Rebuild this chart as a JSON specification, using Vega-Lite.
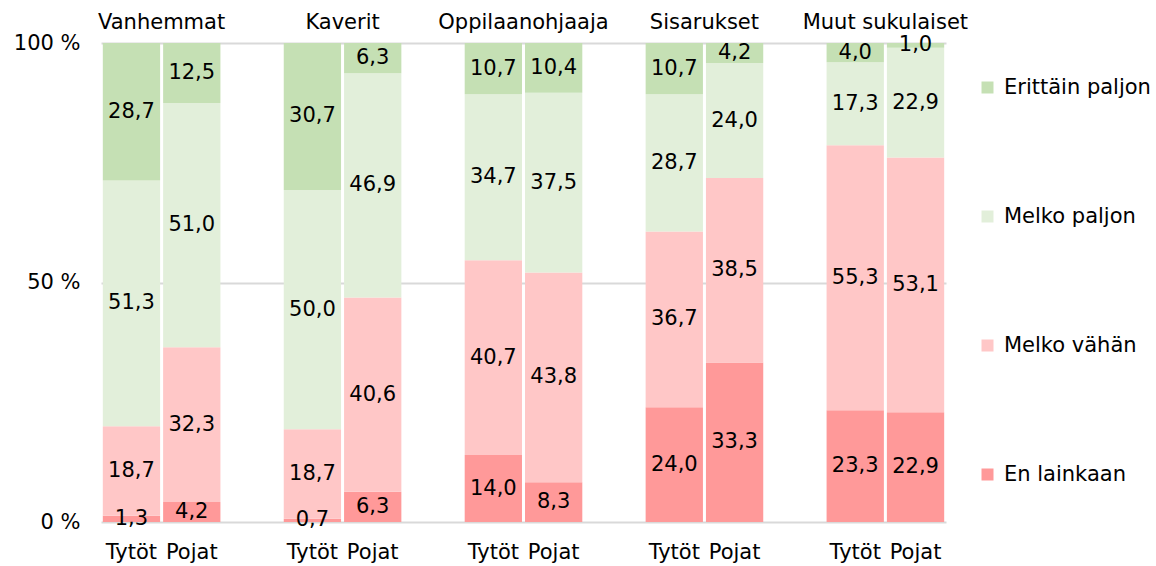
{
  "$schema": "https://vega.github.io/schema/vega-lite/v6.json",
  "width": 845,
  "height": 479,
  "autosize": {"type": "none"},
  "padding": {"left": 101, "top": 43, "right": 210, "bottom": 44},
  "background": "#ffffff",
  "config": {
    "font": "DejaVu Sans",
    "view": {"stroke": null},
    "locale": {"number": {"decimal": ",", "thousands": " ", "grouping": [3], "currency": ["", " €"]}}
  },
  "datasets": {
    "bars": [
      {"group": "Vanhemmat", "bar": "Vanhemmat|Tytöt", "answer": "En lainkaan", "level": 1, "value": 1.3},
      {"group": "Vanhemmat", "bar": "Vanhemmat|Tytöt", "answer": "Melko vähän", "level": 2, "value": 18.7},
      {"group": "Vanhemmat", "bar": "Vanhemmat|Tytöt", "answer": "Melko paljon", "level": 3, "value": 51.3},
      {"group": "Vanhemmat", "bar": "Vanhemmat|Tytöt", "answer": "Erittäin paljon", "level": 4, "value": 28.7},
      {"group": "Vanhemmat", "bar": "Vanhemmat|Pojat", "answer": "En lainkaan", "level": 1, "value": 4.2},
      {"group": "Vanhemmat", "bar": "Vanhemmat|Pojat", "answer": "Melko vähän", "level": 2, "value": 32.3},
      {"group": "Vanhemmat", "bar": "Vanhemmat|Pojat", "answer": "Melko paljon", "level": 3, "value": 51.0},
      {"group": "Vanhemmat", "bar": "Vanhemmat|Pojat", "answer": "Erittäin paljon", "level": 4, "value": 12.5},
      {"group": "Kaverit", "bar": "Kaverit|Tytöt", "answer": "En lainkaan", "level": 1, "value": 0.7},
      {"group": "Kaverit", "bar": "Kaverit|Tytöt", "answer": "Melko vähän", "level": 2, "value": 18.7},
      {"group": "Kaverit", "bar": "Kaverit|Tytöt", "answer": "Melko paljon", "level": 3, "value": 50.0},
      {"group": "Kaverit", "bar": "Kaverit|Tytöt", "answer": "Erittäin paljon", "level": 4, "value": 30.7},
      {"group": "Kaverit", "bar": "Kaverit|Pojat", "answer": "En lainkaan", "level": 1, "value": 6.3},
      {"group": "Kaverit", "bar": "Kaverit|Pojat", "answer": "Melko vähän", "level": 2, "value": 40.6},
      {"group": "Kaverit", "bar": "Kaverit|Pojat", "answer": "Melko paljon", "level": 3, "value": 46.9},
      {"group": "Kaverit", "bar": "Kaverit|Pojat", "answer": "Erittäin paljon", "level": 4, "value": 6.3},
      {"group": "Oppilaanohjaaja", "bar": "Oppilaanohjaaja|Tytöt", "answer": "En lainkaan", "level": 1, "value": 14.0},
      {"group": "Oppilaanohjaaja", "bar": "Oppilaanohjaaja|Tytöt", "answer": "Melko vähän", "level": 2, "value": 40.7},
      {"group": "Oppilaanohjaaja", "bar": "Oppilaanohjaaja|Tytöt", "answer": "Melko paljon", "level": 3, "value": 34.7},
      {"group": "Oppilaanohjaaja", "bar": "Oppilaanohjaaja|Tytöt", "answer": "Erittäin paljon", "level": 4, "value": 10.7},
      {"group": "Oppilaanohjaaja", "bar": "Oppilaanohjaaja|Pojat", "answer": "En lainkaan", "level": 1, "value": 8.3},
      {"group": "Oppilaanohjaaja", "bar": "Oppilaanohjaaja|Pojat", "answer": "Melko vähän", "level": 2, "value": 43.8},
      {"group": "Oppilaanohjaaja", "bar": "Oppilaanohjaaja|Pojat", "answer": "Melko paljon", "level": 3, "value": 37.5},
      {"group": "Oppilaanohjaaja", "bar": "Oppilaanohjaaja|Pojat", "answer": "Erittäin paljon", "level": 4, "value": 10.4},
      {"group": "Sisarukset", "bar": "Sisarukset|Tytöt", "answer": "En lainkaan", "level": 1, "value": 24.0},
      {"group": "Sisarukset", "bar": "Sisarukset|Tytöt", "answer": "Melko vähän", "level": 2, "value": 36.7},
      {"group": "Sisarukset", "bar": "Sisarukset|Tytöt", "answer": "Melko paljon", "level": 3, "value": 28.7},
      {"group": "Sisarukset", "bar": "Sisarukset|Tytöt", "answer": "Erittäin paljon", "level": 4, "value": 10.7},
      {"group": "Sisarukset", "bar": "Sisarukset|Pojat", "answer": "En lainkaan", "level": 1, "value": 33.3},
      {"group": "Sisarukset", "bar": "Sisarukset|Pojat", "answer": "Melko vähän", "level": 2, "value": 38.5},
      {"group": "Sisarukset", "bar": "Sisarukset|Pojat", "answer": "Melko paljon", "level": 3, "value": 24.0},
      {"group": "Sisarukset", "bar": "Sisarukset|Pojat", "answer": "Erittäin paljon", "level": 4, "value": 4.2},
      {"group": "Muut sukulaiset", "bar": "Muut sukulaiset|Tytöt", "answer": "En lainkaan", "level": 1, "value": 23.3},
      {"group": "Muut sukulaiset", "bar": "Muut sukulaiset|Tytöt", "answer": "Melko vähän", "level": 2, "value": 55.3},
      {"group": "Muut sukulaiset", "bar": "Muut sukulaiset|Tytöt", "answer": "Melko paljon", "level": 3, "value": 17.3},
      {"group": "Muut sukulaiset", "bar": "Muut sukulaiset|Tytöt", "answer": "Erittäin paljon", "level": 4, "value": 4.0},
      {"group": "Muut sukulaiset", "bar": "Muut sukulaiset|Pojat", "answer": "En lainkaan", "level": 1, "value": 22.9},
      {"group": "Muut sukulaiset", "bar": "Muut sukulaiset|Pojat", "answer": "Melko vähän", "level": 2, "value": 53.1},
      {"group": "Muut sukulaiset", "bar": "Muut sukulaiset|Pojat", "answer": "Melko paljon", "level": 3, "value": 22.9},
      {"group": "Muut sukulaiset", "bar": "Muut sukulaiset|Pojat", "answer": "Erittäin paljon", "level": 4, "value": 1.0}
    ],
    "headers": [
      {"group": "Vanhemmat", "bar": "Vanhemmat|Tytöt"},
      {"group": "Kaverit", "bar": "Kaverit|Tytöt"},
      {"group": "Oppilaanohjaaja", "bar": "Oppilaanohjaaja|Tytöt"},
      {"group": "Sisarukset", "bar": "Sisarukset|Tytöt"},
      {"group": "Muut sukulaiset", "bar": "Muut sukulaiset|Tytöt"}
    ]
  },
  "encoding": {
    "x": {
      "field": "bar",
      "type": "nominal",
      "scale": {
        "domain": ["Vanhemmat|Tytöt", "Vanhemmat|Pojat", "gap1", "Kaverit|Tytöt", "Kaverit|Pojat", "gap2", "Oppilaanohjaaja|Tytöt", "Oppilaanohjaaja|Pojat", "gap3", "Sisarukset|Tytöt", "Sisarukset|Pojat", "gap4", "Muut sukulaiset|Tytöt", "Muut sukulaiset|Pojat"],
        "paddingInner": 0.05,
        "paddingOuter": 0.03
      },
      "axis": {
        "title": null,
        "labelAngle": 0,
        "domain": false,
        "ticks": false,
        "tickSize": 0,
        "labelPadding": 19,
        "labelFontSize": 21,
        "labelColor": "#000000",
        "labelFont": "DejaVu Sans",
        "labelExpr": "indexof(datum.label, '|') >= 0 ? split(datum.label, '|')[1] : ''"
      }
    }
  },
  "layer": [
    {
      "data": {"name": "bars"},
      "mark": {"type": "bar"},
      "encoding": {
        "y": {
          "field": "value",
          "type": "quantitative",
          "stack": "normalize",
          "scale": {"domain": [0, 1]},
          "axis": {
            "title": null,
            "values": [0, 0.5, 1],
            "labelExpr": "round(datum.value * 100) + ' %'",
            "domain": false,
            "ticks": false,
            "tickSize": 0,
            "labelPadding": 21,
            "labelFontSize": 21,
            "labelColor": "#000000",
            "grid": true,
            "gridColor": "#d9d9d9",
            "gridWidth": 2
          }
        },
        "color": {
          "field": "answer",
          "type": "nominal",
          "scale": {
            "domain": ["Erittäin paljon", "Melko paljon", "Melko vähän", "En lainkaan"],
            "range": ["#c5e0b4", "#e2efda", "#ffc7c7", "#ff9999"]
          },
          "legend": {
            "title": null,
            "orient": "none",
            "legendX": 876,
            "legendY": 34,
            "symbolType": "square",
            "symbolSize": 144,
            "symbolStrokeWidth": 0,
            "labelFontSize": 21,
            "labelColor": "#000000",
            "labelOffset": 6,
            "rowPadding": 107
          }
        },
        "order": {"field": "level", "type": "quantitative"}
      }
    },
    {
      "data": {"name": "bars"},
      "mark": {"type": "text", "fontSize": 21, "color": "#000000", "baseline": "middle"},
      "encoding": {
        "y": {"field": "value", "type": "quantitative", "stack": "normalize", "bandPosition": 0.5},
        "detail": {"field": "answer"},
        "order": {"field": "level", "type": "quantitative"},
        "text": {"field": "value", "type": "quantitative", "format": ".1f"}
      }
    },
    {
      "data": {"name": "headers"},
      "mark": {"type": "text", "fontSize": 21, "color": "#000000", "baseline": "alphabetic", "dy": -14},
      "encoding": {
        "x": {"field": "bar", "type": "nominal", "bandPosition": 1.026},
        "y": {"datum": 1, "type": "quantitative"},
        "text": {"field": "group"}
      }
    }
  ]
}
